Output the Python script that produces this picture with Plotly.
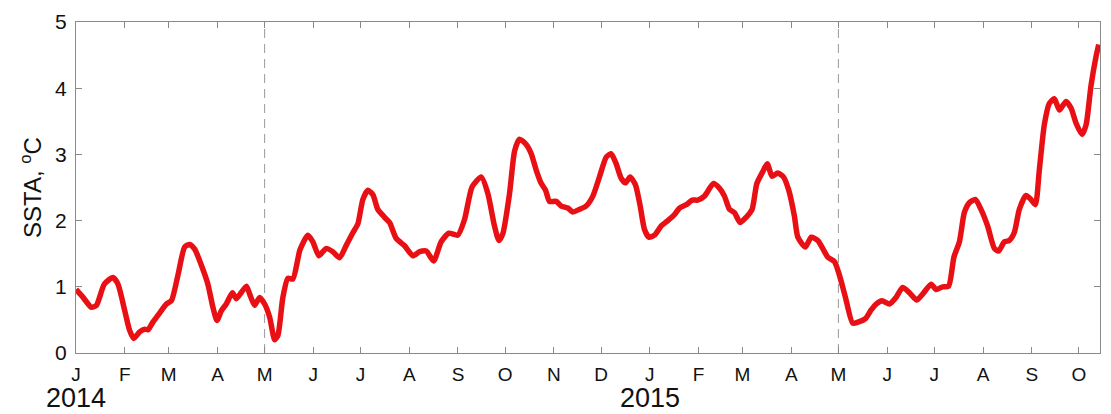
import pandas as pd
import plotly.graph_objects as go

# Sea-surface temperature anomaly record, days counted from 1 Jan 2014
start_date = "2014-01-01"
day_offsets = [
    0, 4.5, 9.8, 13, 18, 23.5, 26.7, 31, 34, 36.7, 40.5, 43.7, 45.8, 49, 54.3,
    57.5, 60.7, 64.9, 69.1, 72.3, 75.5, 79.7, 83.9, 87.1, 89.7, 92.5, 95.6,
    99.5, 102, 105, 108.4, 110.5, 113.6, 116.8, 120, 123.2, 126.4, 128.5,
    131.6, 134.8, 138, 142.5, 147.5, 150.7, 154.5, 159.2, 163.4, 167.7, 172,
    176.2, 179.3, 182.5, 185.7, 188.9, 192, 196.3, 199.5, 203.7, 209, 214.3,
    218.6, 222.8, 227.5, 232.3, 237.2, 242.9, 247.2, 252, 257.8, 262, 266.2,
    269, 271.5, 275.8, 279, 282.1, 286.4, 289.6, 292.8, 296, 298.7, 301.2,
    305.5, 308.7, 312.9, 316, 320.3, 324.5, 328.8, 333, 337.3, 340.4, 343.6,
    346.8, 349.5, 352.5, 355.9, 358.9, 361.6, 364.4, 368, 372.3, 376.5, 380.7,
    383.9, 388.2, 392, 395.5, 399.8, 405.5, 409.3, 412.5, 415.7, 418.9, 422.5,
    426.3, 430.1, 433.1, 436.9, 439.7, 442.8, 446.4, 450, 453.4, 457, 459.2,
    464, 467.7, 471.9, 475, 478.2, 482.5, 485.6, 489.5, 494.1, 497.9, 502.2,
    505.8, 509, 512.8, 517.5, 521.7, 525.9, 530.2, 534.8, 538.6, 544, 547.1,
    551.3, 555.1, 558.5, 562, 565.1, 568.3, 572.1, 575.7, 579.9, 584.2, 586.9,
    590.6, 593.7, 596.9, 600.1, 604.3, 607.5, 610.3, 612.8, 616, 619.2, 622.4,
    625.6, 629.8, 633, 636.2, 640, 642.6, 645.7, 648.9, 650.6,
]
ssta = [
    0.96, 0.84, 0.69, 0.72, 1.04, 1.14, 1.04, 0.64, 0.35, 0.22, 0.32, 0.36,
    0.35, 0.47, 0.64, 0.74, 0.79, 1.18, 1.60, 1.64, 1.57, 1.33, 1.04, 0.69,
    0.49, 0.64, 0.74, 0.91, 0.82, 0.91, 1.01, 0.89, 0.72, 0.84, 0.74, 0.54,
    0.20, 0.27, 0.84, 1.13, 1.12, 1.56, 1.78, 1.68, 1.47, 1.58, 1.53, 1.44,
    1.63, 1.82, 1.95, 2.32, 2.46, 2.39, 2.17, 2.05, 1.97, 1.73, 1.62, 1.47,
    1.53, 1.54, 1.39, 1.68, 1.81, 1.78, 2.02, 2.51, 2.66, 2.41, 1.92, 1.70,
    1.80, 2.41, 3.05, 3.23, 3.15, 3.01, 2.76, 2.56, 2.46, 2.29, 2.29, 2.22,
    2.19, 2.13, 2.17, 2.22, 2.37, 2.66, 2.96, 3.01, 2.86, 2.64, 2.57, 2.66,
    2.54, 2.22, 1.87, 1.75, 1.78, 1.92, 2.00, 2.09, 2.19, 2.24, 2.31, 2.31,
    2.37, 2.56, 2.49, 2.37, 2.17, 2.12, 1.97, 2.05, 2.17, 2.56, 2.74, 2.86,
    2.67, 2.72, 2.66, 2.46, 2.07, 1.75, 1.60, 1.75, 1.70, 1.58, 1.45, 1.38,
    1.18, 0.84, 0.45, 0.47, 0.52, 0.65, 0.74, 0.79, 0.74, 0.84, 0.99, 0.91,
    0.80, 0.89, 1.04, 0.96, 1.00, 1.01, 1.45, 1.68, 2.12, 2.27, 2.32, 2.17,
    1.92, 1.58, 1.54, 1.68, 1.70, 1.82, 2.17, 2.38, 2.32, 2.24, 2.76, 3.45,
    3.77, 3.84, 3.67, 3.80, 3.70, 3.47, 3.30, 3.45, 4.04, 4.48, 4.66,
]

# Month ticks (first day of each month) and their labels
month_ticks = pd.date_range("2014-01-01", "2015-10-01", freq="MS")
month_labels = ["J", "F", "M", "A", "M", "J", "J", "A", "S", "O", "N", "D",
                "J", "F", "M", "A", "M", "J", "J", "A", "S", "O"]
year_labels = ["2014", "2015"]
year_dates = ["2014-01-01", "2015-01-01"]
season_marks = ["2014-05-01", "2015-05-01"]
x_range = ["2014-01-01", "2015-10-14 10:00"]
y_ticks = [0, 1, 2, 3, 4, 5]

dates = pd.Timestamp(start_date) + pd.to_timedelta(day_offsets, unit="D")

FONT = "Liberation Sans, Arial, sans-serif"
AXIS_GREY = "#8a8a8a"

fig = go.Figure()
fig.add_trace(go.Scatter(
    x=dates, y=ssta, mode="lines",
    line=dict(color="rgb(232,16,20)", width=5.5, shape="spline", smoothing=0.6),
    showlegend=False, hoverinfo="skip",
))

for d in season_marks:
    fig.add_shape(type="line", xref="x", yref="paper", x0=d, x1=d, y0=0, y1=1,
                  line=dict(color="#9a9a9a", width=1, dash="9px,6px"), layer="below")

for label, d in zip(year_labels, year_dates):
    fig.add_annotation(x=d, y=0, xref="x", yref="paper", text=label,
                       showarrow=False, yanchor="middle", xanchor="center",
                       yshift=-44.5, font=dict(family=FONT, size=27, color="#111"))

fig.update_layout(
    width=1111, height=414,
    margin=dict(l=76, r=10, t=15, b=61, pad=0),
    paper_bgcolor="white", plot_bgcolor="white",
    font=dict(family=FONT, color="#111"),
)
fig.update_xaxes(
    range=x_range, tickvals=month_ticks, ticktext=month_labels,
    ticks="inside", ticklen=6, tickcolor=AXIS_GREY, tickwidth=1,
    showline=True, linecolor=AXIS_GREY, linewidth=1, mirror="ticks",
    showgrid=False, zeroline=False, tickangle=0,
    tickfont=dict(family=FONT, size=19, color="#111"), ticklabelstandoff=4,
)
fig.update_yaxes(
    range=[0, 5], tickvals=y_ticks,
    ticks="inside", ticklen=6, tickcolor=AXIS_GREY, tickwidth=1,
    showline=True, linecolor=AXIS_GREY, linewidth=1, mirror="ticks",
    showgrid=False, zeroline=False,
    tickfont=dict(family=FONT, size=21, color="#111"), ticklabelstandoff=4,
    title=dict(text="SSTA, <sup>o</sup>C", font=dict(family=FONT, size=24, color="#111"),
               standoff=6),
)

fig.write_html("out.html")
